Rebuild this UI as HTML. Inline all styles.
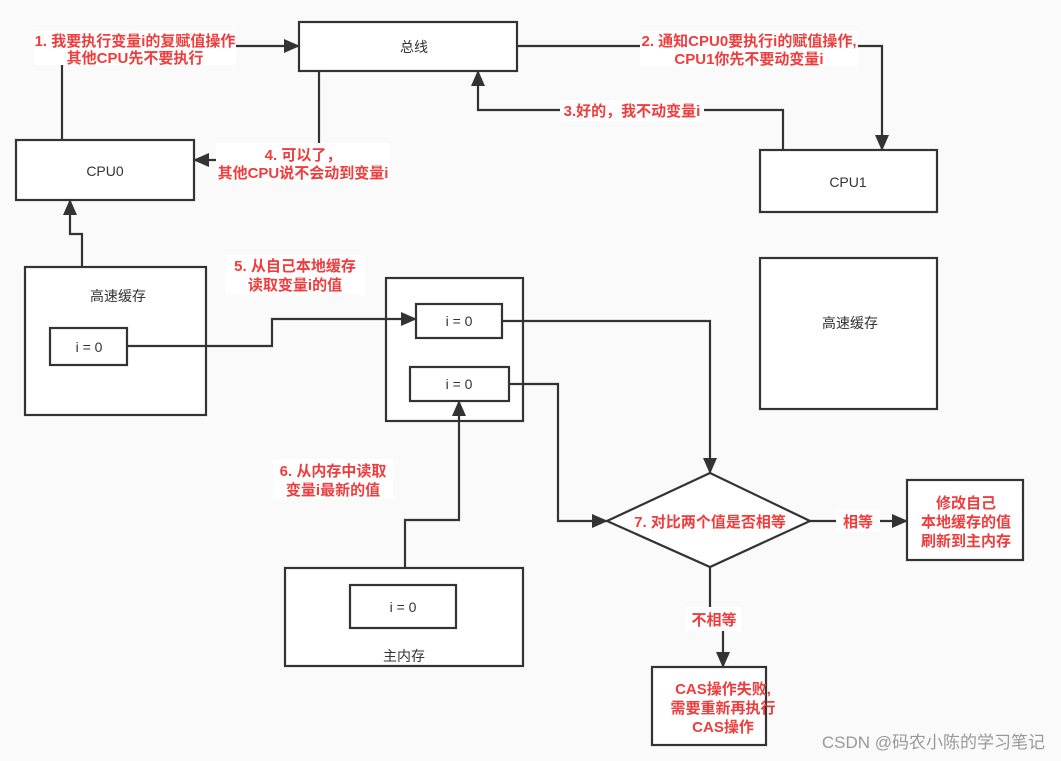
<!DOCTYPE html>
<html><head><meta charset="utf-8"><style>
html,body{margin:0;padding:0;background:#fafafa;}
svg{display:block;}
.t{font-family:"Liberation Sans","Noto Sans CJK SC",sans-serif;font-size:14px;fill:#333;}
.r{font-family:"Liberation Sans","Noto Sans CJK SC",sans-serif;font-size:15px;font-weight:bold;fill:#f03c3c;}
</style></head><body>
<svg width="1061" height="761" viewBox="0 0 1061 761" xmlns="http://www.w3.org/2000/svg">
<defs>
<marker id="b" markerWidth="16" markerHeight="16" refX="15" refY="8" orient="auto" markerUnits="userSpaceOnUse" viewBox="0 0 16 16"><path d="M0,1 L16,8 L0,15 z" fill="#333"/></marker></defs>
<rect width="1061" height="761" fill="#fafafa"/>
<g fill="#fff" stroke="#333" stroke-width="2.2">
<rect x="299" y="22" width="218" height="49"/>
<rect x="16" y="140" width="178" height="60"/>
<rect x="760" y="150" width="177" height="62"/>
<rect x="25" y="267" width="181" height="148"/>
<rect x="50" y="328" width="77" height="37"/>
<rect x="386" y="278" width="137" height="143"/>
<rect x="416" y="304" width="86" height="34"/>
<rect x="410" y="367" width="99" height="34"/>
<rect x="760" y="258" width="177" height="151"/>
<rect x="285" y="568" width="238" height="98"/>
<rect x="350" y="585" width="106" height="43"/>
<polygon points="710,473 810,521 710,567 607,521"/>
<rect x="907" y="480" width="116" height="80"/>
<rect x="652" y="667" width="114" height="78"/>
</g>
<g fill="none" stroke="#333" stroke-width="2.2">
<polyline points="62,140 62,46 299,46" marker-end="url(#b)"/>
<polyline points="517,46 882,46 882,150" marker-end="url(#b)"/>
<polyline points="783,150 783,110 478,110 478,71" marker-end="url(#b)"/>
<polyline points="319,71 319,160 194,160" marker-end="url(#b)"/>
<polyline points="82,267 82,234 70,234 70,200" marker-end="url(#b)"/>
<polyline points="127,346 272,346 272,319 416,319" marker-end="url(#b)"/>
<polyline points="405,568 405,520 459,520 459,401" marker-end="url(#b)"/>
<polyline points="502,321 710,321 710,473" marker-end="url(#b)"/>
<polyline points="509,384 558,384 558,521 607,521" marker-end="url(#b)"/>
<polyline points="810,521 907,521" marker-end="url(#b)"/>
<polyline points="710,567 710,610 723,610 723,667" marker-end="url(#b)"/>
</g>
<g fill="#fff">
<rect x="34" y="31" width="202" height="34"/>
<rect x="640" y="31" width="218" height="35"/>
<rect x="560" y="100" width="144" height="21"/>
<rect x="216" y="143" width="174" height="38"/>
<rect x="225" y="255" width="140" height="40"/>
<rect x="273" y="459" width="120" height="40"/>
<rect x="836" y="510" width="44" height="22"/>
<rect x="686" y="607" width="56" height="24"/>
</g>
<text class="t" x="414" y="52" text-anchor="middle">总线</text>
<text class="t" x="105" y="176" text-anchor="middle">CPU0</text>
<text class="t" x="848" y="187" text-anchor="middle">CPU1</text>
<text class="t" x="118" y="301" text-anchor="middle">高速缓存</text>
<text class="t" x="89" y="352" text-anchor="middle">i = 0</text>
<text class="t" x="459" y="326" text-anchor="middle">i = 0</text>
<text class="t" x="459" y="389" text-anchor="middle">i = 0</text>
<text class="t" x="850" y="328" text-anchor="middle">高速缓存</text>
<text class="t" x="403" y="612" text-anchor="middle">i = 0</text>
<text class="t" x="404" y="661" text-anchor="middle">主内存</text>
<g text-anchor="middle">
<text class="r" x="135" y="46">1. 我要执行变量i的复赋值操作</text>
<text class="r" x="135" y="63">其他CPU先不要执行</text>
<text class="r" x="749" y="46">2. 通知CPU0要执行i的赋值操作,</text>
<text class="r" x="749" y="64">CPU1你先不要动变量i</text>
<text class="r" x="632" y="116">3.好的，我不动变量i</text>
<text class="r" x="303" y="160">4. 可以了，</text>
<text class="r" x="303" y="178">其他CPU说不会动到变量i</text>
<text class="r" x="295" y="271">5. 从自己本地缓存</text>
<text class="r" x="295" y="290">读取变量i的值</text>
<text class="r" x="333" y="476">6. 从内存中读取</text>
<text class="r" x="333" y="495">变量i最新的值</text>
<text class="r" x="710" y="527">7. 对比两个值是否相等</text>
<text class="r" x="858" y="527">相等</text>
<text class="r" x="966" y="508">修改自己</text>
<text class="r" x="966" y="527">本地缓存的值</text>
<text class="r" x="966" y="546">刷新到主内存</text>
<text class="r" x="714" y="625">不相等</text>
<text class="r" x="723" y="694">CAS操作失败,</text>
<text class="r" x="723" y="713">需要重新再执行</text>
<text class="r" x="723" y="732">CAS操作</text>
</g>
<text x="1045" y="748" text-anchor="end" style="font-family:'Liberation Sans','Noto Sans CJK SC',sans-serif;font-size:17px;fill:#999;">CSDN @码农小陈的学习笔记</text>
</svg>
</body></html>
